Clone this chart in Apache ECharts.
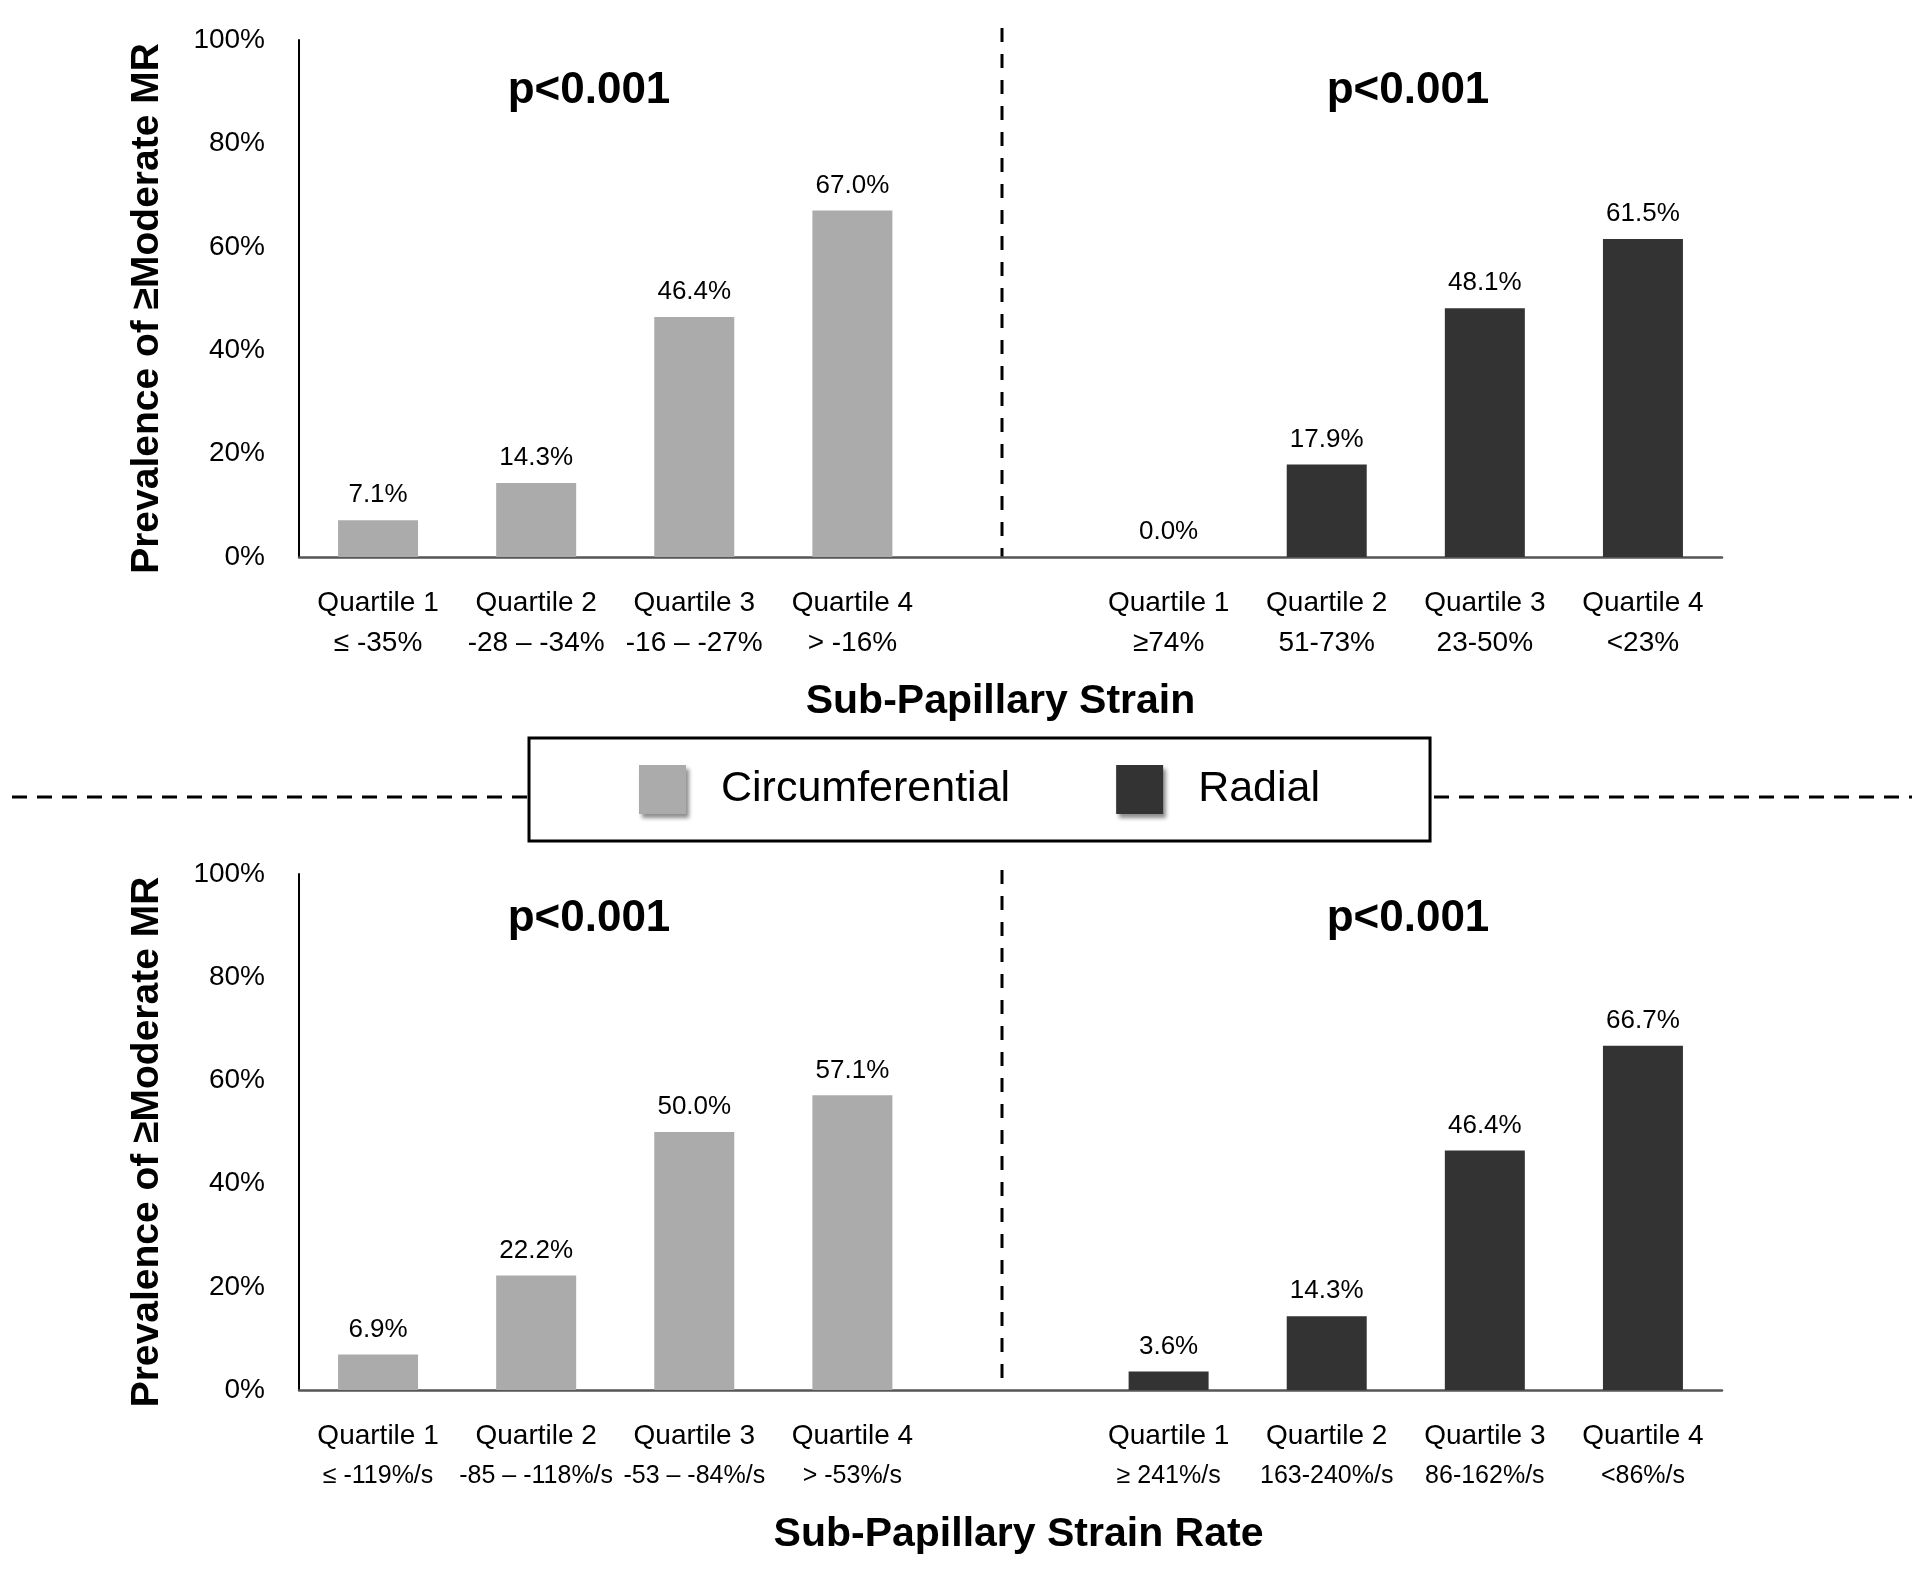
<!DOCTYPE html>
<html>
<head>
<meta charset="utf-8">
<script src="https://cdn.jsdelivr.net/npm/echarts@6/dist/echarts.min.js"></script>
<style>html,body{margin:0;padding:0;background:#fff}#c{width:1920px;height:1570px}</style>
</head>
<body>
<div id="c"></div>
<script>
const seriesNames = ['Circumferential', 'Radial'];
const strainCircLabels = ['Quartile 1\n≤ -35%', 'Quartile 2\n-28 – -34%', 'Quartile 3\n-16 – -27%', 'Quartile 4\n> -16%'];
const strainRadLabels = ['Quartile 1\n≥74%', 'Quartile 2\n51-73%', 'Quartile 3\n23-50%', 'Quartile 4\n<23%'];
const rateCircLabels = ['Quartile 1\n≤ -119%/s', 'Quartile 2\n-85 – -118%/s', 'Quartile 3\n-53 – -84%/s', 'Quartile 4\n> -53%/s'];
const rateRadLabels = ['Quartile 1\n≥ 241%/s', 'Quartile 2\n163-240%/s', 'Quartile 3\n86-162%/s', 'Quartile 4\n<86%/s'];
const strainCirc = [7.1, 14.3, 46.4, 67.0];
const strainRad = [0.0, 17.9, 48.1, 61.5];
const rateCirc = [6.9, 22.2, 50.0, 57.1];
const rateRad = [3.6, 14.3, 46.4, 66.7];
const yTicks = [0, 20, 40, 60, 80, 100];
const pText = 'p<0.001';
const yTitle = 'Prevalence of ≥Moderate MR';
const xTitles = ['Sub-Papillary Strain', 'Sub-Papillary Strain Rate'];

const SANS = '"Liberation Sans", Arial, Helvetica, sans-serif';
const colors = ['#ababab', '#333333'];
const blank = ['-', '-', '-', '-', '-'];

function cats(l, r) { return l.concat(['']).concat(r); }

const chart = echarts.init(document.getElementById('c'), null, {renderer: 'canvas'});

function xAxisFor(gi, cl, name, namePad, lineSize) {
  return {
    type: 'category', gridIndex: gi, data: cl,
    axisLine: {lineStyle: {color: '#555', width: 2.5}},
    axisTick: {show: false},
    axisLabel: {
      interval: 0, color: '#000', margin: 26,
      formatter: function (v) {
        if (!v) return '';
        const parts = v.split('\n');
        return '{a|' + parts[0] + '}\n{b|' + parts[1] + '}';
      },
      rich: {
        a: {fontFamily: SANS, fontSize: 28, lineHeight: 40, color: '#000'},
        b: {fontFamily: SANS, fontSize: lineSize, lineHeight: 40, color: '#000'}
      }
    },
    name: name, nameLocation: 'middle', nameGap: 124,
    nameTextStyle: {fontFamily: SANS, fontWeight: 'bold', fontSize: 41, color: '#000', padding: namePad}
  };
}
function yAxisFor(gi) {
  return {
    type: 'value', gridIndex: gi, min: 0, max: 100, interval: 20,
    axisLine: {show: true, lineStyle: {color: '#000', width: 2}},
    axisTick: {show: false}, splitLine: {show: false},
    axisLabel: {formatter: '{value}%', color: '#000', fontFamily: SANS, fontSize: 28, margin: 34},
    name: yTitle, nameLocation: 'middle', nameGap: 132, nameRotate: 90,
    nameTextStyle: {fontFamily: SANS, fontWeight: 'bold', fontSize: 39, color: '#000', padding: [0, 20, 0, 0]}
  };
}
function barSeries(name, xi, data) {
  return {
    name: name, type: 'bar', xAxisIndex: xi, yAxisIndex: xi,
    data: data, barWidth: 80, barGap: '-100%',
    itemStyle: {color: colors[seriesNames.indexOf(name)]},
    label: {show: true, position: 'top', distance: 12, formatter: p => p.value.toFixed(1) + '%',
      color: '#000', fontFamily: SANS, fontSize: 26},
    animation: false
  };
}
function pTitle(x, y) {
  return {text: pText, left: x, top: y, textAlign: 'center',
    textStyle: {fontFamily: SANS, fontWeight: 'bold', fontSize: 44, color: '#000'}};
}
function dashLine(x1, y1, x2, y2, dash) {
  return {type: 'line', silent: true, shape: {x1: x1, y1: y1, x2: x2, y2: y2},
    style: {stroke: '#000', lineWidth: 3, lineDash: dash}};
}

const option = {
  animation: false,
  backgroundColor: '#fff',
  grid: [
    {left: 299, width: 1423, top: 40, height: 517},
    {left: 299, width: 1423, top: 874, height: 516}
  ],
  xAxis: [xAxisFor(0, cats(strainCircLabels, strainRadLabels), xTitles[0], [0, 20, 0, 0], 28),
          xAxisFor(1, cats(rateCircLabels, rateRadLabels), xTitles[1], [0, 0, 0, 16], 25)],
  yAxis: [yAxisFor(0), yAxisFor(1)],
  title: [pTitle(584, 64), pTitle(1403, 64), pTitle(584, 892), pTitle(1403, 892)],
  legend: {
    data: seriesNames, left: 529, top: 738, orient: 'horizontal',
    padding: [27, 110, 27, 110], itemGap: 106,
    borderColor: '#000', borderWidth: 3, backgroundColor: '#fff',
    itemWidth: 47, itemHeight: 49, icon: 'rect',
    itemStyle: {shadowBlur: 4, shadowOffsetX: 3, shadowOffsetY: 4, shadowColor: 'rgba(0,0,0,0.45)'},
    textStyle: {fontFamily: SANS, fontSize: 43, color: '#000', padding: [0, 0, 0, 30]}
  },
  graphic: [
    dashLine(12, 797, 529, 797, [15, 10]),
    dashLine(1434, 797, 1912, 797, [15, 10]),
    dashLine(1002, 28, 1002, 557, [14, 12]),
    dashLine(1002, 870, 1002, 1390, [14, 12])
  ],
  series: [
    barSeries('Circumferential', 0, strainCirc.concat(blank)),
    barSeries('Radial', 0, blank.concat(strainRad)),
    barSeries('Circumferential', 1, rateCirc.concat(blank)),
    barSeries('Radial', 1, blank.concat(rateRad))
  ]
};
chart.setOption(option);
</script>
</body>
</html>
